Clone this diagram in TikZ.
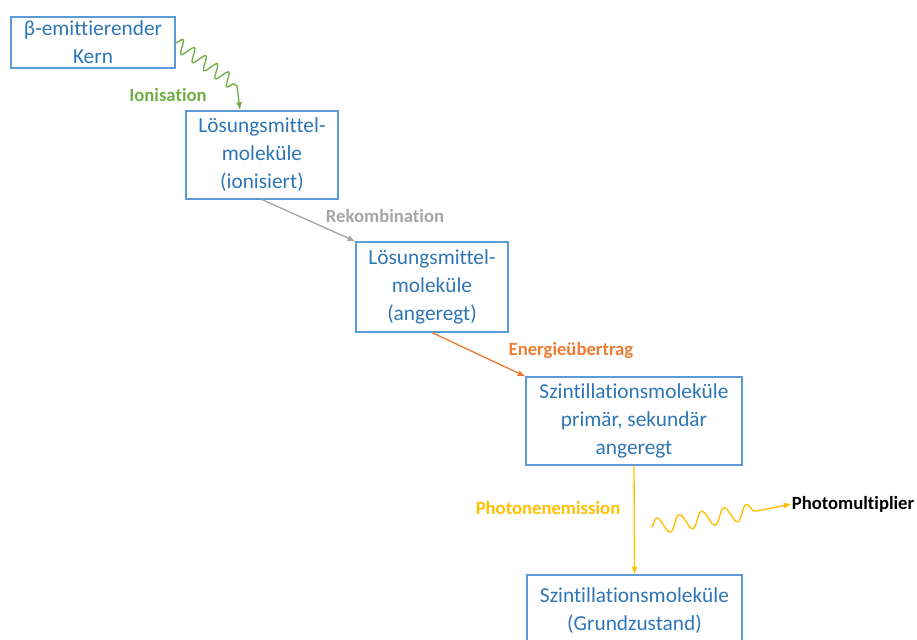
\documentclass[tikz,border=0pt]{standalone}
\usepackage{fontspec}
\setmainfont[Ligatures={NoCommon}]{Carlito}
\usepackage{tikz}
\usetikzlibrary{decorations.pathmorphing}
\definecolor{boxline}{HTML}{5B9BD5}
\definecolor{boxtext}{HTML}{2E75B6}
\definecolor{ionc}{HTML}{70AD47}
\definecolor{rekc}{HTML}{A5A5A5}
\definecolor{enc}{HTML}{ED7D31}
\definecolor{phc}{HTML}{FFC000}

\begin{document}
\begin{tikzpicture}[x=0.75pt,y=-0.75pt,
  box/.style={draw=boxline,line width=0.9pt,text=boxtext,align=center,
    inner sep=0pt,font=\fontsize{16}{21}\selectfont},
  lbl/.style={font=\fontsize{14}{16}\selectfont\bfseries,inner sep=0pt},
  conn/.style={-latex,line width=1pt}]
\useasboundingbox (0,0) rectangle (917,639);
\begin{scope}
\clip (0,0) rectangle (917,639);
% boxes (sizes in pt)
\node[box,minimum width=123pt,minimum height=38.25pt] (kern) at (93,42.5) {β-emittierender\\Kern};
\node[box,minimum width=114pt,minimum height=66pt] (ionisiert) at (262,155) {Lösungsmittel-\\moleküle\\(ionisiert)};
\node[box,minimum width=114pt,minimum height=67.5pt] (angeregt) at (432,287) {Lösungsmittel-\\moleküle\\(angeregt)};
\node[box,minimum width=162pt,minimum height=66pt] (szint) at (634,421) {Szintillationsmoleküle\\primär, sekundär\\angeregt};
\node[box,minimum width=161.25pt,minimum height=54pt] (grund) at (634.5,611) {Szintillationsmoleküle\\(Grundzustand)};
\end{scope}
% ionisation (wavy)
\coordinate (ionbend) at (237,86);
\coordinate (ionend) at (240,110);
\draw[ionc,line width=1pt,decorate,decoration={snake,segment length=10.5pt,amplitude=5pt}] (kern.east) -- (ionbend);
\draw[ionc,conn] (ionbend) -- (ionend);
\node[lbl,text=ionc] (ionlbl) at (168,95) {Ionisation};
% rekombination
\draw[rekc,conn] (ionisiert.south) -- (angeregt.north west);
\node[lbl,text=rekc] (reklbl) at (385,216) {Rekombination};
% energieuebertrag
\draw[enc,conn] (angeregt.south) -- (szint.north west);
\node[lbl,text=enc] (enlbl) at (571,351) {Energieübertrag};
% photonenemission
\draw[phc,conn] (szint.south) -- (grund.north);
\node[lbl,text=phc] (phlbl) at (548,508) {Photonenemission};
% photomultiplier
\node[lbl] (pm) at (853,504) {Photomultiplier};
\coordinate (wavestart) at (651,527);
\coordinate (waveend) at (762,510);
\draw[phc,line width=1pt,decorate,decoration={snake,segment length=17pt,amplitude=6pt}] (wavestart) -- (waveend);
\draw[phc,conn] (waveend) -- (pm.west);
\end{tikzpicture}
\end{document}
